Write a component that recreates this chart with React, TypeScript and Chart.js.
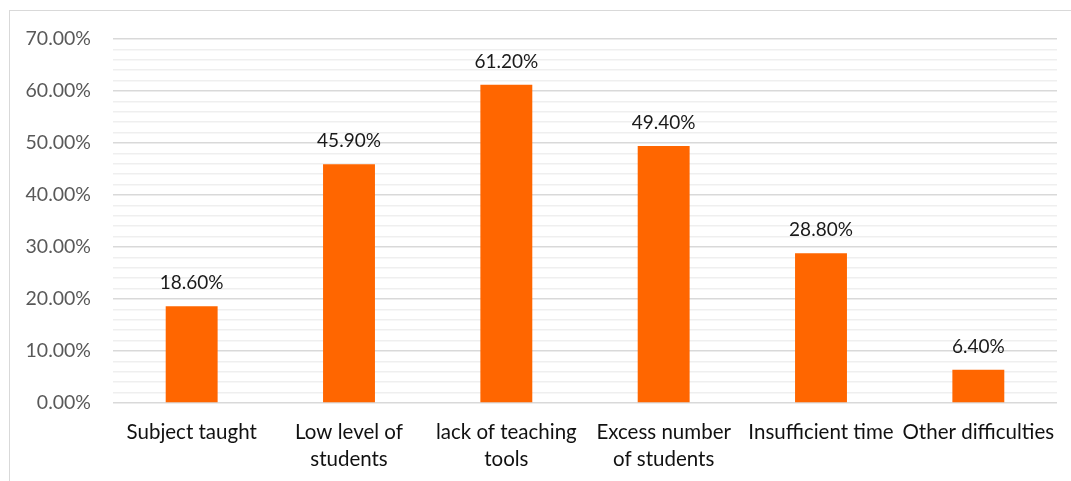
import React, { useEffect, useRef } from "react";
import { Chart, registerables } from "chart.js";

Chart.register(...registerables);

const categories: (string | string[])[] = [
  "Subject taught",
  ["Low level of", "students"],
  ["lack of teaching", "tools"],
  ["Excess number", "of students"],
  "Insufficient time",
  "Other difficulties",
];
const shares: number[] = [18.6, 45.9, 61.2, 49.4, 28.8, 6.4];
const yMax = 70;
const yStep = 2;

const FONT = "Lato, 'Open Sans', sans-serif";

const valueLabels = {
  id: "valueLabels",
  afterDatasetsDraw(chart: any) {
    const ctx = chart.ctx;
    const meta = chart.getDatasetMeta(0);
    ctx.save();
    ctx.font = `19px ${FONT}`;
    ctx.fillStyle = "#1a1a1a";
    ctx.textAlign = "center";
    ctx.textBaseline = "middle";
    meta.data.forEach((bar: any, i: number) => {
      ctx.fillText(shares[i].toFixed(2) + "%", bar.x, bar.y - 23);
    });
    ctx.restore();
  },
};

export default function App() {
  const ref = useRef<HTMLCanvasElement>(null);

  useEffect(() => {
    document.documentElement.style.overflow = "hidden";
    document.body.style.overflow = "hidden";
    const chart = new Chart(ref.current!, {
      type: "bar",
      data: {
        labels: categories,
        datasets: [
          {
            data: shares,
            backgroundColor: "#ff6600",
            borderWidth: 0,
            barPercentage: 0.66,
            categoryPercentage: 0.5,
          },
        ],
      },
      options: {
        animation: false,
        responsive: false,
        layout: { padding: { top: 28, right: 13, left: 0, bottom: 0 } },
        plugins: { legend: { display: false }, tooltip: { enabled: false } },
        scales: {
          x: {
            grid: { display: false },
            border: { display: false },
            ticks: {
              color: "#111",
              font: { family: FONT, size: 20.5, lineHeight: 1.32 },
              padding: 8,
              maxRotation: 0,
              autoSkip: false,
            },
            afterFit(scale: any) {
              scale.height = 78;
            },
          },
          y: {
            min: 0,
            max: yMax,
            border: { display: false },
            grid: {
              drawTicks: false,
              color: (c: any) =>
                c.tick && c.tick.value % 10 === 0 ? "#d9d9d9" : "#efefef",
              lineWidth: 1.5,
            },
            ticks: {
              stepSize: yStep,
              autoSkip: false,
              color: "#595959",
              font: { family: FONT, size: 19.5 },
              padding: 22,
              callback: (v: any) =>
                Number(v) % 10 === 0 ? Number(v).toFixed(2) + "%" : "",
            },
            afterFit(scale: any) {
              scale.width = 103;
              scale.paddingTop = 0;
              scale.paddingBottom = 0;
            },
          },
        },
      },
      plugins: [valueLabels],
    });
    return () => chart.destroy();
  }, []);

  return (
    <div
      style={{
        position: "absolute",
        left: 9,
        top: 10,
        width: 1075,
        height: 490,
        border: "1px solid #d9d9d9",
        background: "#fff",
      }}
    >
      <canvas
        ref={ref}
        width={1060}
        height={470}
        style={{ display: "block", width: 1060, height: 470 }}
      />
    </div>
  );
}
